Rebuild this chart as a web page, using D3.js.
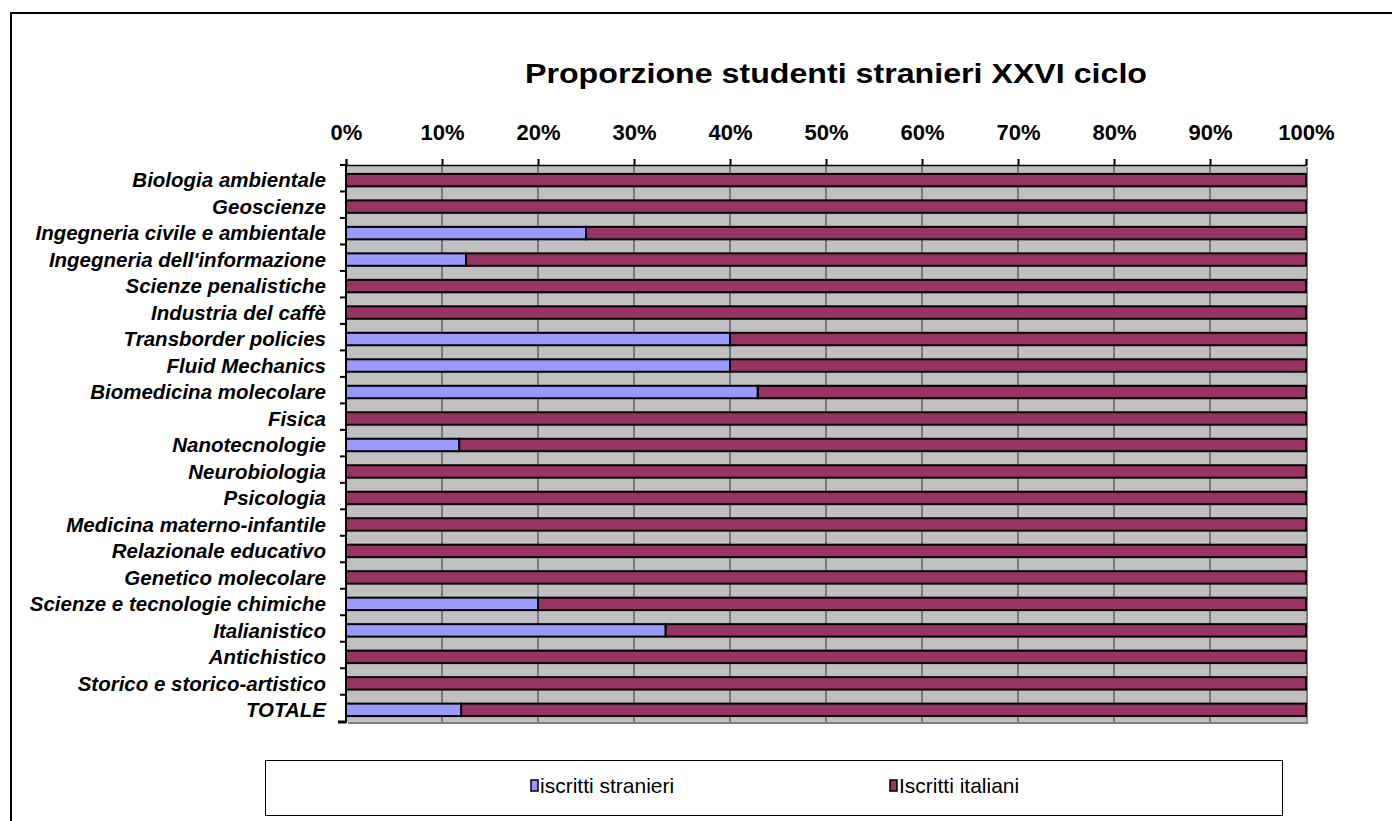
<!DOCTYPE html>
<html>
<head>
<meta charset="utf-8">
<script src="https://cdnjs.cloudflare.com/ajax/libs/d3/7.8.5/d3.min.js"></script>
<style>
body { margin: 0; background: #fff; }
svg { display: block; font-family: "Liberation Sans", Arial, sans-serif; }
</style>
</head>
<body>
<svg width="1392" height="821"></svg>
<script>
// corsi di dottorato, XXVI ciclo
var corsi = ["Biologia ambientale", "Geoscienze", "Ingegneria civile e ambientale", "Ingegneria dell'informazione",
  "Scienze penalistiche", "Industria del caffè", "Transborder policies", "Fluid Mechanics", "Biomedicina molecolare",
  "Fisica", "Nanotecnologie", "Neurobiologia", "Psicologia", "Medicina materno-infantile", "Relazionale educativo",
  "Genetico molecolare", "Scienze e tecnologie chimiche", "Italianistico", "Antichistico",
  "Storico e storico-artistico", "TOTALE"];
// quota % iscritti stranieri
var stranieri = [0, 0, 25, 12.5, 0, 0, 40, 40, 42.9, 0, 11.8, 0, 0, 0, 0, 0, 20, 33.3, 0, 0, 12];
// quota % iscritti italiani
var italiani = [100, 100, 75, 87.5, 100, 100, 60, 60, 57.1, 100, 88.2, 100, 100, 100, 100, 100, 80, 66.7, 100, 100, 88];
var serie = ["iscritti stranieri", "Iscritti italiani"];
var colori = ["#9999FF", "#993366"];
var xTicks = [0, 10, 20, 30, 40, 50, 60, 70, 80, 90, 100];

var svg = d3.select("svg");
var pLeft = 346, pRight = 1306, pTop = 165, pBottom = 722;

// cornice
svg.append("path")
  .attr("d", "M11,830 L11,13 L1400,13")
  .attr("fill", "none").attr("stroke", "#000").attr("stroke-width", 2);

svg.append("text")
  .attr("x", 836).attr("y", 83)
  .attr("text-anchor", "middle")
  .attr("textLength", 622).attr("lengthAdjust", "spacingAndGlyphs")
  .style("font-size", "27px").style("font-weight", "bold")
  .text("Proporzione studenti stranieri XXVI ciclo");

var x = d3.scaleLinear().domain([0, 100]).range([pLeft, pRight]);
var y = d3.scaleBand().domain(corsi).range([pTop, pBottom]).paddingInner(0.53).paddingOuter(0.28).align(0.6);

var rows = corsi.map(function(c, i) { return {corso: c, s: stranieri[i], it: italiani[i]}; });
var stack = d3.stack().keys(["s", "it"])(rows);

// ombra area
svg.append("rect").attr("x", pLeft + 2).attr("y", pTop + 2).attr("width", pRight - pLeft).attr("height", pBottom - pTop)
  .attr("fill", "#808080");
svg.append("rect").attr("x", pLeft).attr("y", pTop).attr("width", pRight - pLeft).attr("height", pBottom - pTop)
  .attr("fill", "#C0C0C0");

// griglia
svg.append("g").selectAll("line").data(xTicks.slice(1, -1)).enter().append("line")
  .attr("x1", function(d) { return x(d); }).attr("x2", function(d) { return x(d); })
  .attr("y1", pTop).attr("y2", pBottom)
  .attr("stroke", "#333").attr("stroke-width", 1);

// barre
svg.append("g").selectAll("g").data(stack).enter().append("g")
  .attr("fill", function(d, i) { return colori[i]; })
  .selectAll("rect").data(function(d) { return d.filter(function(p) { return p[1] - p[0] > 0; }); })
  .enter().append("rect")
  .attr("x", function(d) { return x(d[0]); })
  .attr("y", function(d) { return y(d.data.corso); })
  .attr("width", function(d) { return x(d[1]) - x(d[0]); })
  .attr("height", y.bandwidth())
  .attr("stroke", "#000").attr("stroke-width", 2);

// asse superiore
var xAxis = svg.append("g").attr("transform", "translate(0," + pTop + ")")
  .call(d3.axisTop(x).tickValues(xTicks).tickSize(6).tickFormat(function(d) { return d + "%"; }));
xAxis.select(".domain").attr("stroke", "#000").attr("stroke-width", 1.5);
xAxis.selectAll(".tick line").attr("stroke", "#000").attr("stroke-width", 2);
xAxis.selectAll("text").attr("y", -25).attr("dy", 0)
  .style("font-size", "22px").style("font-weight", "bold").attr("fill", "#000");

// asse sinistro
var yEdges = corsi.map(function(c, i) { return pTop + i * y.step(); }).concat([pBottom]);
svg.append("line").attr("x1", pLeft).attr("x2", pLeft).attr("y1", pTop).attr("y2", pBottom + 1)
  .attr("stroke", "#000").attr("stroke-width", 2);
svg.append("g").selectAll("line").data(yEdges).enter().append("line")
  .attr("x1", function(d, i) { return i == yEdges.length - 1 ? 338 : 340; }).attr("x2", pLeft)
  .attr("y1", function(d) { return d; }).attr("y2", function(d) { return d; })
  .attr("stroke", "#000").attr("stroke-width", function(d, i) { return i == yEdges.length - 1 ? 3 : 2; });

svg.append("g").selectAll("text").data(corsi).enter().append("text")
  .attr("x", 326)
  .attr("y", function(d) { return y(d) + y.bandwidth() / 2; })
  .attr("dy", "0.35em")
  .attr("text-anchor", "end")
  .style("font-size", "20.5px").style("font-weight", "bold").style("font-style", "italic")
  .text(function(d) { return d; });

// legenda
svg.append("rect").attr("x", 265.5).attr("y", 760.5).attr("width", 1017).attr("height", 55)
  .attr("fill", "#fff").attr("stroke", "#000").attr("stroke-width", 1);
var legX = [531, 890];
var leg = svg.append("g").selectAll("g").data(serie).enter().append("g")
  .attr("transform", function(d, i) { return "translate(" + legX[i] + ",780)"; });
leg.append("rect").attr("width", 7).attr("height", 11)
  .attr("fill", function(d, i) { return colori[i]; }).attr("stroke", "#000").attr("stroke-width", 1.5);
leg.append("text").attr("x", 9).attr("y", 13)
  .style("font-size", "21px")
  .text(function(d) { return d; });
</script>
</body>
</html>
